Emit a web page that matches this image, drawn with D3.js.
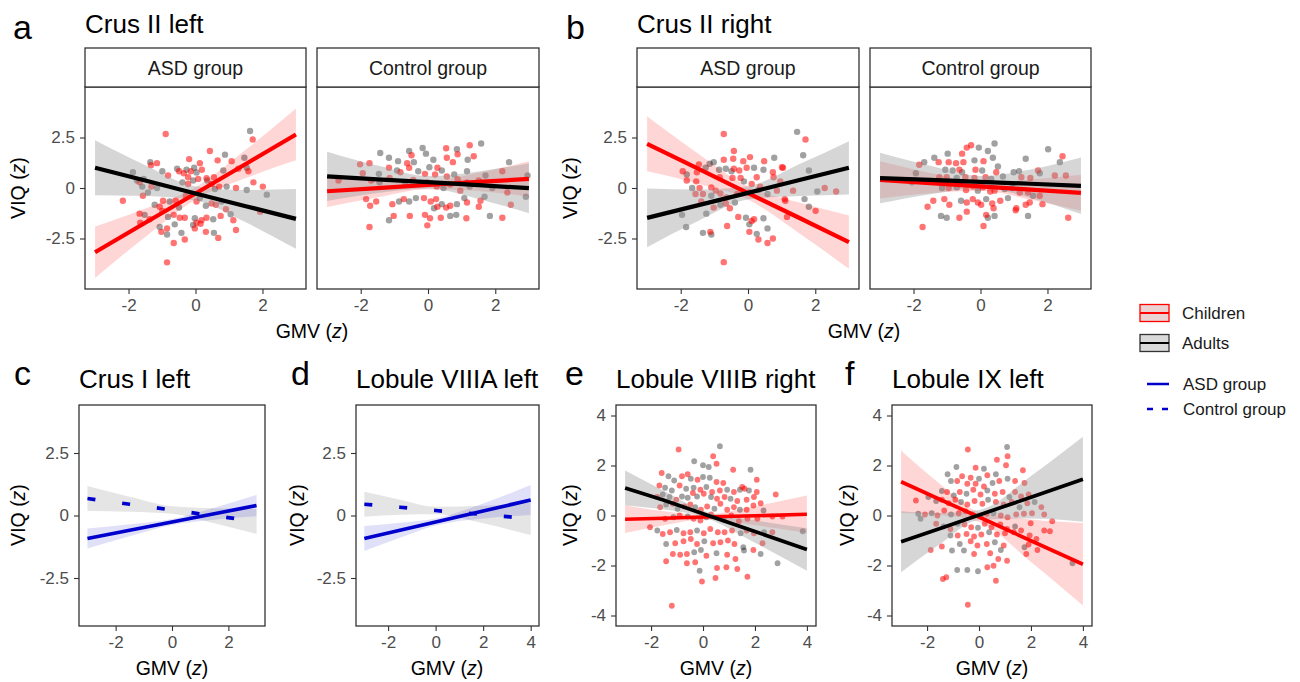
<!DOCTYPE html>
<html>
<head>
<meta charset="utf-8">
<script src="https://cdn.jsdelivr.net/npm/d3@7"></script>
<style>
  body { margin: 0; background: #fff; }
  text { font-family: "Liberation Sans", Arial, Helvetica, sans-serif; }
</style>
</head>
<body>
<svg id="chart" width="1300" height="682"></svg>
<script>
// ---- data (z scores) ----
const xTicksTop = [-2, 0, 2];
const yTicksTop = [-2.5, 0, 2.5];
const xTicksWide = [-2, 0, 2, 4];
const yTicksWide = [-4, -2, 0, 2, 4];
const fitX6 = [-3, -1.5, 0, 1.5, 3];
const fitX7 = [-3, -1.5, 0, 2, 4];

// Crus II left, ASD group
const aAsdChildren = [[-0.89,2.67],[1.71,2.40],[0.43,1.83],[0.66,1.37],[1.08,1.33],[-1.15,1.23],[-1.33,1.13],[-0.19,1.43],[0.13,1.23],[-0.49,0.83],[-0.35,0.73],[-0.14,0.83],[0.19,0.90],[0.33,0.48],[0.55,0.53],[1.28,0.95],[1.58,0.83],[-0.82,0.62],[-1.67,0.28],[-1.32,0.07],[-0.22,0.53],[0.08,0.45],[-0.22,0.20],[0.48,0.20],[0.71,0.07],[1.21,0.00],[1.73,0.28],[2.01,0.07],[-2.17,-0.63],[-1.57,-0.38],[-1.07,-0.93],[-0.97,-0.63],[-0.59,-0.63],[-0.29,-0.38],[0.03,-0.67],[0.48,-0.77],[0.61,-0.83],[0.91,-1.05],[1.93,-1.17],[-1.67,-1.27],[-1.37,-1.55],[-0.99,-1.13],[-0.65,-1.33],[-0.47,-1.47],[-0.32,-1.47],[0.03,-1.72],[0.18,-1.60],[0.33,-1.47],[0.75,-1.38],[1.13,-1.60],[-1.65,-1.72],[-1.02,-2.17],[-0.85,-2.00],[-0.02,-2.00],[0.15,-1.77],[0.31,-2.17],[0.68,-2.47],[1.21,-2.08],[-0.65,-2.72],[-0.32,-2.55],[-0.85,-3.68]];
const aAsdAdults = [[1.63,2.82],[0.88,1.65],[1.46,1.50],[-1.35,1.28],[-0.04,1.00],[-0.55,0.95],[-0.27,0.90],[0.03,0.77],[0.83,0.87],[1.53,1.00],[-1.87,0.78],[-1.75,0.37],[-0.99,0.83],[-1.55,0.45],[-1.59,0.07],[-1.15,0.00],[-0.07,0.37],[-0.39,0.28],[0.35,0.37],[0.58,-0.05],[0.93,0.07],[1.53,-0.10],[2.13,-0.33],[-1.42,-0.22],[-1.22,-0.83],[-0.77,-0.67],[-0.49,-0.97],[0.13,-0.50],[0.31,-0.88],[0.78,-0.67],[1.05,-1.30],[-1.52,-1.33],[-0.82,-1.43],[-0.02,-1.50],[0.53,-1.55],[-1.07,-1.93],[-0.85,-2.30],[-0.62,-1.80],[-0.42,-2.22],[-0.07,-1.83],[0.55,-2.22]];
// fits: [fit, lower, upper] at fitX6
const aAsdChildrenFit = [[-3.18,-1.72,-0.27,1.19,2.65],[-4.45,-2.42,-0.57,0.49,1.37],[-1.91,-1.02,0.04,1.89,3.93]];
const aAsdAdultsFit = [[1.00,0.37,-0.27,-0.90,-1.53],[-0.36,-0.39,-0.62,-1.70,-3.01],[2.36,1.13,0.09,-0.10,-0.05]];

// Crus II left, Control group
const aCtrlChildren = [[0.54,1.97],[1.24,2.12],[-0.49,1.62],[-0.62,1.23],[0.56,1.50],[0.74,1.28],[1.36,1.57],[0.88,1.67],[0.28,1.00],[-2.02,1.17],[-1.74,1.23],[-1.94,0.73],[-1.16,1.00],[-0.82,0.78],[-0.56,1.00],[-0.09,0.70],[0.21,0.67],[0.56,0.57],[0.88,0.43],[1.16,0.28],[1.51,0.37],[2.21,0.83],[-2.66,0.37],[-1.69,0.37],[-1.14,0.50],[-0.44,0.40],[-0.02,0.28],[0.26,0.07],[0.66,0.17],[0.96,-0.13],[2.36,-0.22],[-1.84,-0.55],[-1.72,-0.88],[-1.54,-0.67],[-1.06,-0.80],[-0.72,-0.55],[-0.12,-0.50],[0.08,-0.67],[0.24,-0.55],[0.28,-0.93],[0.54,-0.97],[0.66,-0.88],[1.16,-0.72],[1.51,-0.93],[1.56,-0.63],[2.46,-0.83],[-1.02,-1.38],[-0.54,-1.38],[-0.09,-1.33],[0.06,-1.50],[0.38,-1.47],[1.14,-1.50],[2.21,-1.47],[-1.74,-1.93],[-0.02,-1.85]];
const aCtrlAdults = [[1.58,2.20],[0.86,1.92],[-0.56,1.83],[-1.42,1.73],[-0.16,1.98],[-0.06,1.70],[-1.16,1.50],[-0.89,1.33],[-0.42,1.28],[1.18,1.40],[0.16,1.40],[0.04,1.03],[0.41,0.87],[-1.46,0.70],[-0.92,0.87],[-0.29,0.83],[0.78,0.67],[1.16,0.83],[1.71,0.62],[2.41,1.28],[-1.44,0.28],[-0.69,0.28],[-0.24,0.20],[0.46,0.00],[1.24,0.07],[1.91,0.00],[2.96,0.62],[-0.86,-0.67],[-0.56,-0.67],[-0.36,-0.50],[0.41,-0.80],[0.86,-0.80],[1.08,-0.50],[1.68,-0.43],[2.91,-0.43],[-1.16,-1.60],[0.18,-1.00],[0.66,-1.38],[0.84,-1.33],[1.84,-1.38]];
const aCtrlChildrenFit = [[-0.16,-0.01,0.15,0.30,0.45],[-0.94,-0.46,-0.06,-0.15,-0.43],[0.62,0.44,0.35,0.75,1.33]];
const aCtrlAdultsFit = [[0.58,0.43,0.29,0.14,-0.01],[-0.64,-0.25,-0.02,-0.54,-1.25],[1.80,1.11,0.59,0.82,1.23]];

// Crus II right, ASD group
const bAsdChildren = [[1.71,2.40],[-0.72,2.67],[-0.42,1.83],[-0.72,1.40],[-0.44,1.45],[-0.14,1.33],[0.06,1.53],[0.48,1.33],[1.04,1.00],[-1.46,1.17],[-1.94,0.83],[-1.52,0.78],[-0.42,0.95],[-0.26,0.87],[-0.04,1.00],[0.26,0.53],[0.74,0.78],[1.01,1.03],[-1.82,0.37],[-1.54,0.33],[-1.44,0.00],[-1.09,0.03],[-0.84,0.53],[-0.46,0.50],[-0.22,0.50],[0.11,0.20],[0.36,0.07],[0.76,0.53],[0.96,0.33],[2.28,0.00],[2.62,-0.17],[-1.56,-0.30],[-1.34,-0.30],[-0.96,-0.13],[-0.82,-0.27],[-0.64,-0.47],[-0.32,-0.30],[0.04,-0.22],[0.86,-0.13],[1.09,-0.55],[-1.39,-0.67],[-1.02,-0.97],[-0.66,-0.77],[-0.54,-1.00],[-0.29,-1.43],[0.11,-1.63],[0.18,-1.55],[1.16,-1.43],[2.01,-1.13],[-1.12,-2.17],[-0.62,-1.88],[0.04,-2.17],[0.74,-2.50],[0.58,-2.72],[0.31,-2.55],[-0.72,-3.67],[1.11,-0.63],[1.34,-0.13]];
const bAsdAdults = [[1.46,2.78],[1.64,1.62],[-1.02,1.28],[0.78,1.50],[-1.14,1.20],[-1.82,0.67],[-0.66,0.95],[-0.49,0.83],[0.18,1.00],[0.46,0.90],[1.81,0.87],[-1.66,0.00],[2.06,-0.17],[-0.39,-0.72],[1.68,-0.55],[-1.96,-1.33],[-1.24,-1.27],[-0.06,-1.47],[1.81,-0.93],[-1.84,-1.93],[-1.34,-2.22],[-1.09,-2.30],[0.04,-1.80],[0.26,-2.27],[0.58,-2.00],[-0.86,0.90],[-1.26,1.00],[-0.12,0.33],[0.58,-0.30],[-0.82,-0.83],[0.46,-1.50],[-1.09,-0.38],[0.31,-0.10]];
const bAsdChildrenFit = [[2.19,0.97,-0.25,-1.46,-2.68],[0.83,0.22,-0.57,-2.21,-4.00],[3.55,1.72,0.08,-0.71,-1.36]];
const bAsdAdultsFit = [[-1.48,-0.86,-0.24,0.38,1.00],[-2.93,-1.64,-0.57,-0.40,-0.32],[-0.03,-0.08,0.09,1.16,2.32]];

// Crus II right, Control group
const bCtrlChildren = [[-0.28,2.12],[-0.41,2.00],[-0.55,1.70],[0.09,1.33],[2.45,1.57],[-1.83,1.15],[-1.25,1.28],[-0.95,1.28],[-0.73,1.23],[-0.51,1.28],[-0.63,0.90],[-0.15,0.90],[0.47,0.78],[1.72,0.87],[2.22,0.62],[2.55,0.62],[-1.23,0.53],[-1.01,0.53],[-0.45,0.53],[-0.18,0.50],[0.15,0.53],[1.22,0.53],[1.49,0.50],[-0.95,0.00],[-0.43,-0.10],[-0.23,0.07],[0.07,0.03],[0.29,-0.17],[0.42,-0.13],[1.17,-0.22],[1.42,-0.22],[1.77,-0.38],[-1.41,-0.63],[-1.58,-0.93],[-1.08,-0.55],[-0.93,-0.83],[-0.41,-0.72],[-0.23,-0.55],[-0.08,-0.72],[0.02,-0.83],[0.35,-0.77],[0.39,-1.00],[0.59,-0.63],[1.07,-1.00],[1.35,-0.83],[1.47,-0.72],[1.85,-0.80],[-0.63,-1.47],[-0.41,-1.17],[0.17,-1.33],[1.05,-1.10],[0.09,-1.88],[-1.73,-1.93],[2.62,-1.47]];
const bCtrlAdults = [[0.42,2.20],[-0.05,2.00],[0.22,1.83],[-0.98,1.70],[-0.18,1.37],[0.37,1.50],[-1.38,1.50],[2.02,1.92],[2.37,1.28],[1.35,1.45],[-1.68,1.28],[-1.05,0.90],[-0.83,0.87],[-0.55,0.78],[0.05,0.87],[0.52,1.07],[0.99,0.78],[1.15,0.83],[1.77,0.73],[-1.93,0.73],[-2.05,0.28],[-0.71,0.50],[0.32,0.45],[0.67,0.57],[-1.15,0.00],[-0.71,0.03],[-0.08,-0.13],[0.72,-0.05],[0.95,0.00],[1.57,-0.38],[-0.58,-0.63],[0.17,-0.55],[0.82,-0.50],[-1.18,-1.38],[-1.01,-1.47],[0.22,-1.47],[0.42,-1.38],[1.42,-1.38]];
const bCtrlChildrenFit = [[0.40,0.24,0.08,-0.08,-0.24],[-0.52,-0.26,-0.14,-0.58,-1.13],[1.32,0.74,0.30,0.42,0.65]];
const bCtrlAdultsFit = [[0.49,0.40,0.30,0.21,0.11],[-0.76,-0.31,0.00,-0.50,-1.29],[1.74,1.10,0.60,0.91,1.51]];

// Crus I left / Lobule VIIIA left: group fits only
const cAsdFit = [[-0.92,-0.59,-0.26,0.07,0.40],[-1.32,-0.83,-0.38,-0.17,-0.03],[-0.52,-0.35,-0.14,0.31,0.83]];
const cCtrlFit = [[0.68,0.45,0.22,-0.01,-0.24],[0.18,0.15,0.07,-0.31,-0.74],[1.18,0.75,0.37,0.29,0.26]];
const dAsdFit = [[-0.92,-0.59,-0.26,0.18,0.62],[-1.42,-0.89,-0.40,-0.12,0.02],[-0.42,-0.29,-0.12,0.48,1.22]];
const dCtrlFit = [[0.45,0.33,0.20,0.04,-0.13],[-0.05,0.03,0.05,-0.31,-0.78],[0.95,0.63,0.35,0.39,0.52]];

// Lobule VIIIB right
const eChildren = [[-0.94,2.64],[0.39,2.37],[0.52,2.07],[1.16,1.83],[2.07,1.43],[-1.59,1.70],[-0.81,1.57],[-0.59,1.65],[-0.21,1.43],[0.52,1.34],[0.78,1.30],[1.51,1.14],[1.60,1.07],[2.07,0.94],[-1.68,1.20],[-0.90,1.20],[-0.10,1.03],[0.35,0.94],[0.65,1.00],[1.19,0.94],[2.80,0.84],[-1.76,0.74],[-1.03,0.63],[-0.39,0.90],[0.03,0.87],[0.54,0.67],[0.83,0.74],[1.32,0.58],[1.68,0.63],[1.96,0.74],[2.22,0.49],[-1.65,0.33],[-1.16,0.47],[-0.72,0.36],[-0.49,0.44],[-0.08,0.23],[0.16,0.36],[0.67,0.47],[0.93,0.23],[1.19,0.33],[1.68,0.23],[1.94,0.40],[-2.04,-0.47],[-1.46,-0.13],[-0.90,0.00],[-0.36,-0.13],[-0.10,-0.20],[0.31,0.04],[1.09,0.00],[1.38,-0.23],[1.71,-0.13],[2.09,-0.13],[2.67,-0.04],[3.06,-0.04],[-1.55,-0.74],[-1.27,-0.67],[-0.75,-0.71],[-0.49,-0.67],[0.03,-0.71],[0.28,-0.54],[0.57,-0.67],[0.83,-0.67],[1.12,-0.60],[1.68,-0.60],[1.96,-0.71],[2.67,-0.67],[-1.07,-1.11],[-0.75,-1.03],[-0.47,-0.94],[-0.23,-1.14],[0.39,-1.11],[0.67,-1.07],[0.96,-1.00],[1.21,-1.14],[1.94,-1.38],[2.29,-1.11],[-1.16,-1.54],[-0.88,-1.57],[-0.62,-1.54],[0.13,-1.61],[0.93,-1.57],[1.25,-1.74],[-1.42,-1.83],[-0.62,-1.91],[-0.30,-1.87],[0.54,-2.10],[0.90,-2.07],[1.32,-2.14],[-0.04,-2.64],[0.48,-2.50],[1.71,-2.45],[-1.20,-3.61]];
const eAdults = [[0.65,2.77],[-0.34,2.17],[0.00,2.01],[0.22,1.94],[1.83,1.83],[-1.33,1.57],[-1.11,1.40],[-0.47,1.47],[0.00,1.54],[0.26,1.51],[-1.46,1.11],[-1.20,1.00],[-0.65,1.07],[-0.36,1.11],[0.13,1.14],[0.93,1.03],[1.42,1.03],[1.77,1.00],[-1.55,0.84],[-1.29,0.74],[-0.81,0.76],[-0.59,0.71],[-0.23,0.76],[0.31,0.74],[1.06,0.67],[-1.42,0.44],[-0.98,0.27],[-0.30,0.33],[0.44,0.27],[1.42,0.23],[2.33,0.20],[-1.14,-0.07],[-0.59,-0.04],[0.13,-0.07],[0.80,-0.17],[3.84,-0.63],[-1.76,-0.60],[-1.01,-0.58],[-0.23,-0.60],[1.45,-0.71],[2.35,-0.67],[-1.42,-1.14],[0.05,-1.03],[1.55,-1.27],[-0.34,-1.47],[-0.08,-1.38],[0.52,-1.51],[1.58,-1.40],[2.22,-1.54],[2.87,-1.91],[-0.13,-2.21]];
const eChildrenFit = [[-0.15,-0.11,-0.06,-0.01,0.05],[-0.70,-0.39,-0.16,-0.39,-0.70],[0.40,0.17,0.04,0.37,0.80]];
const eAdultsFit = [[1.10,0.61,0.07,-0.64,-1.36],[0.40,0.24,-0.05,-1.09,-2.21],[1.80,0.98,0.19,-0.19,-0.51]];

// Lobule IX left
const fChildren = [[-0.43,2.64],[1.10,2.37],[1.04,2.01],[0.69,2.23],[-0.13,1.91],[1.69,1.81],[-0.32,1.51],[0.32,1.61],[-0.65,1.57],[-0.84,1.38],[-0.45,1.27],[-0.13,1.27],[0.19,1.16],[0.78,1.38],[1.39,1.38],[1.75,1.30],[-1.23,0.94],[-0.74,0.94],[-0.22,1.03],[0.06,0.84],[0.61,0.87],[0.91,0.94],[1.39,0.94],[1.62,0.76],[1.91,0.84],[-2.43,0.60],[-1.43,0.63],[-1.17,0.49],[-0.91,0.63],[-0.45,0.44],[-0.17,0.58],[0.13,0.47],[0.65,0.54],[0.95,0.44],[1.26,0.54],[1.86,0.49],[2.40,0.33],[-2.08,0.04],[-1.60,0.00],[-1.34,0.20],[-0.78,0.09],[-0.52,0.17],[-0.26,0.04],[0.30,0.07],[0.84,0.00],[1.10,-0.07],[1.43,0.04],[1.73,0.07],[2.04,0.09],[2.51,0.04],[2.82,-0.23],[-1.65,-0.33],[-1.10,-0.54],[-0.56,-0.36],[-0.30,-0.47],[0.22,-0.33],[0.48,-0.47],[0.82,-0.36],[1.08,-0.54],[1.62,-0.60],[1.99,-0.31],[2.51,-0.60],[2.73,-0.63],[-0.82,-0.80],[-0.48,-0.74],[-0.19,-0.84],[0.09,-0.76],[0.69,-0.76],[1.00,-0.71],[1.34,-0.67],[1.95,-0.80],[2.21,-0.94],[-0.32,-1.03],[-0.06,-1.20],[0.30,-1.14],[0.95,-1.20],[2.25,-1.38],[1.82,-1.54],[-1.86,-1.38],[-1.43,-1.24],[-0.19,-1.54],[0.43,-1.51],[0.74,-1.74],[1.08,-1.81],[0.32,-2.07],[0.56,-2.01],[-1.39,-2.54],[-1.26,-2.47],[0.65,-2.61],[-0.43,-3.57],[1.91,-1.16]];
const fAdults = [[1.08,2.74],[0.19,1.87],[-0.87,1.94],[0.00,1.47],[0.65,1.65],[-1.21,1.65],[-1.08,1.38],[0.52,1.30],[1.10,1.47],[-1.43,0.98],[-0.97,0.80],[-0.48,0.87],[0.32,1.00],[1.17,0.74],[-1.95,0.74],[-1.65,0.58],[-0.69,0.54],[0.35,0.63],[1.56,0.33],[2.14,0.54],[-2.34,0.07],[-1.82,0.09],[-1.08,0.04],[0.06,-0.04],[0.56,0.09],[-2.25,-0.13],[-1.36,-0.44],[-0.82,-0.33],[-0.04,-0.49],[1.39,-0.44],[-1.10,-0.80],[0.39,-0.67],[-0.74,-1.14],[0.61,-1.07],[1.75,-1.27],[-1.04,-1.40],[-0.58,-1.40],[0.84,-1.38],[-0.84,-2.18],[-0.45,-2.18],[-0.04,-2.23],[3.60,-1.91]];
const fChildrenFit = [[1.35,0.64,-0.06,-1.01,-1.95],[0.10,0.02,-0.26,-1.86,-3.60],[2.60,1.26,0.14,-0.16,-0.30]];
const fAdultsFit = [[-1.05,-0.52,0.02,0.73,1.45],[-2.27,-1.14,-0.18,-0.12,-0.25],[0.17,0.10,0.22,1.58,3.15]];

// ---- drawing ----
const RED = '#ff0000', BLUE = '#0000cd';
const svg = d3.select('#chart');
let clipN = 0;

function zLabel(sel, name) {
  sel.append('tspan').text(name + ' (');
  sel.append('tspan').attr('font-style', 'italic').text('z');
  sel.append('tspan').text(')');
}

function styleAxis(g) {
  g.attr('font-family', null).attr('font-size', 17);
  g.select('.domain').remove();
  g.selectAll('.tick line').attr('stroke', '#333').attr('stroke-width', 1.1);
  g.selectAll('.tick text').attr('fill', '#4d4d4d');
}

function drawFacet(c) {
  const x = d3.scaleLinear().domain(c.xDomain).range([c.left, c.right]);
  const y = d3.scaleLinear().domain(c.yDomain).range([c.bottom, c.top]);
  const g = svg.append('g');
  const id = 'clip' + (clipN++);
  svg.append('clipPath').attr('id', id).append('rect')
    .attr('x', c.left).attr('y', c.top).attr('width', c.right - c.left).attr('height', c.bottom - c.top);
  const plot = g.append('g').attr('clip-path', `url(#${id})`);

  (c.points || []).forEach(p => {
    plot.append('g').selectAll('circle').data(p.data).join('circle')
      .attr('cx', d => x(d[0])).attr('cy', d => y(d[1])).attr('r', c.pointR)
      .attr('fill', p.color).attr('fill-opacity', p.opacity);
  });

  c.fits.forEach(f => {
    const area = d3.area()
      .x((d, i) => x(f.xs[i]))
      .y0((d, i) => y(f.fit[1][i]))
      .y1((d, i) => y(f.fit[2][i]))
      .curve(d3.curveMonotoneX);
    plot.append('path').datum(f.xs).attr('d', area)
      .attr('fill', f.fill).attr('fill-opacity', f.fillOpacity);
  });
  c.fits.forEach(f => {
    const line = d3.line().x(d => x(d[0])).y(d => y(d[1]));
    const pts = f.xs.map((v, i) => [v, f.fit[0][i]]);
    plot.append('path').datum(pts).attr('d', line)
      .attr('fill', 'none').attr('stroke', f.stroke).attr('stroke-width', c.lineW)
      .attr('stroke-dasharray', f.dash || null);
  });

  g.append('rect').attr('x', c.left).attr('y', c.top)
    .attr('width', c.right - c.left).attr('height', c.bottom - c.top)
    .attr('fill', 'none').attr('stroke', '#333').attr('stroke-width', 1.3);

  g.append('g').attr('transform', `translate(0,${c.bottom})`)
    .call(d3.axisBottom(x).tickValues(c.xTicks).tickSize(5).tickPadding(5).tickFormat(d => String(d)))
    .call(styleAxis);
  if (c.yAxis) {
    g.append('g').attr('transform', `translate(${c.left},0)`)
      .call(d3.axisLeft(y).tickValues(c.yTicks).tickSize(5).tickPadding(5).tickFormat(d => String(d)))
      .call(styleAxis);
  }
  if (c.strip) {
    g.append('rect').attr('x', c.left).attr('y', c.stripTop)
      .attr('width', c.right - c.left).attr('height', c.top - c.stripTop)
      .attr('fill', '#fff').attr('stroke', '#333').attr('stroke-width', 1.3);
    g.append('text').attr('x', (c.left + c.right) / 2).attr('y', (c.stripTop + c.top) / 2 + 7)
      .attr('text-anchor', 'middle').attr('font-size', 19.5).attr('fill', '#1a1a1a').text(c.strip);
  }
}

function childAdultFits(xs, childFit, adultFit) {
  return [
    { xs, fit: childFit, fill: RED, fillOpacity: 0.16, stroke: RED },
    { xs, fit: adultFit, fill: '#999', fillOpacity: 0.4, stroke: '#000' }
  ];
}
function childAdultPoints(ch, ad) {
  return [
    { data: ad, color: '#000', opacity: 0.37 },
    { data: ch, color: RED, opacity: 0.55 }
  ];
}
function groupFits(xs, asdFit, ctrlFit) {
  return [
    { xs, fit: ctrlFit, fill: '#999', fillOpacity: 0.26, stroke: BLUE, dash: '8,27' },
    { xs, fit: asdFit, fill: BLUE, fillOpacity: 0.12, stroke: BLUE }
  ];
}

const top1 = { stripTop: 48, top: 87, bottom: 289, xDomain: [-3.3, 3.3], yDomain: [-5, 5],
  xTicks: xTicksTop, yTicks: yTicksTop, pointR: 3.2, lineW: 4.2 };
const row2 = { top: 405, bottom: 626, yDomain: [-4.42, 4.42], lineW: 3.7, pointR: 2.9 };

drawFacet({ ...top1, left: 85, right: 306, yAxis: true, strip: 'ASD group',
  points: childAdultPoints(aAsdChildren, aAsdAdults), fits: childAdultFits(fitX6, aAsdChildrenFit, aAsdAdultsFit) });
drawFacet({ ...top1, left: 317, right: 539, yAxis: false, strip: 'Control group',
  points: childAdultPoints(aCtrlChildren, aCtrlAdults), fits: childAdultFits(fitX6, aCtrlChildrenFit, aCtrlAdultsFit) });
drawFacet({ ...top1, left: 637, right: 859, yAxis: true, strip: 'ASD group',
  points: childAdultPoints(bAsdChildren, bAsdAdults), fits: childAdultFits(fitX6, bAsdChildrenFit, bAsdAdultsFit) });
drawFacet({ ...top1, left: 870, right: 1091, yAxis: false, strip: 'Control group',
  points: childAdultPoints(bCtrlChildren, bCtrlAdults), fits: childAdultFits(fitX6, bCtrlChildrenFit, bCtrlAdultsFit) });

drawFacet({ ...row2, left: 79, right: 265, xDomain: [-3.3, 3.3], xTicks: xTicksTop, yTicks: yTicksTop, yAxis: true,
  fits: groupFits(fitX6, cAsdFit, cCtrlFit) });
drawFacet({ ...row2, left: 356, right: 539, xDomain: [-3.35, 4.35], xTicks: xTicksWide, yTicks: yTicksTop, yAxis: true,
  fits: groupFits(fitX7, dAsdFit, dCtrlFit) });
drawFacet({ ...row2, left: 616, right: 816, xDomain: [-3.35, 4.35], xTicks: xTicksWide, yTicks: yTicksWide, yAxis: true,
  points: childAdultPoints(eChildren, eAdults), fits: childAdultFits(fitX7, eChildrenFit, eAdultsFit) });
drawFacet({ ...row2, left: 892, right: 1092, xDomain: [-3.35, 4.35], xTicks: xTicksWide, yTicks: yTicksWide, yAxis: true,
  points: childAdultPoints(fChildren, fAdults), fits: childAdultFits(fitX7, fChildrenFit, fAdultsFit) });

// panel letters and titles
const letters = [['a', 13, 39], ['b', 566, 39], ['c', 14, 385], ['d', 291, 385], ['e', 565, 385], ['f', 845, 385]];
letters.forEach(([t, x, y]) => svg.append('text').attr('x', x).attr('y', y).attr('font-size', 34).attr('fill', '#000').text(t));
const titles = [['Crus II left', 85, 33], ['Crus II right', 637, 33], ['Crus I left', 79, 388],
  ['Lobule VIIIA left', 356, 388], ['Lobule VIIIB right', 616, 388], ['Lobule IX left', 892, 388]];
titles.forEach(([t, x, y]) => svg.append('text').attr('x', x).attr('y', y).attr('font-size', 26).attr('fill', '#000').text(t));

// axis titles
const gmvPos = [[312, 338], [864, 338], [172, 675], [447, 675], [716, 675], [992, 675]];
gmvPos.forEach(([x, y]) => svg.append('text').attr('x', x).attr('y', y).attr('text-anchor', 'middle')
  .attr('font-size', 19.5).attr('fill', '#000').call(zLabel, 'GMV'));
const viqPos = [[25, 188], [577, 188], [25, 515], [304, 515], [577, 515], [854, 515]];
viqPos.forEach(([x, y]) => svg.append('text').attr('transform', `translate(${x},${y}) rotate(-90)`)
  .attr('text-anchor', 'middle').attr('font-size', 19.5).attr('fill', '#000').call(zLabel, 'VIQ'));

// legend
const lg = svg.append('g');
[['Children', RED, '#ecd3d3', RED, 313], ['Adults', '#333', '#d9d9d9', '#000', 343]].forEach(([t, border, fill, line, cy]) => {
  lg.append('rect').attr('x', 1140).attr('y', cy - 8.5).attr('width', 29).attr('height', 17)
    .attr('fill', fill).attr('stroke', border).attr('stroke-width', 1.3);
  lg.append('line').attr('x1', 1140).attr('x2', 1169).attr('y1', cy).attr('y2', cy)
    .attr('stroke', line).attr('stroke-width', 2);
  lg.append('text').attr('x', 1182).attr('y', cy + 6).attr('font-size', 17).attr('fill', '#1a1a1a').text(t);
});
[['ASD group', null, 384], ['Control group', '6,9', 409]].forEach(([t, dash, cy]) => {
  lg.append('line').attr('x1', 1147).attr('x2', 1169).attr('y1', cy).attr('y2', cy)
    .attr('stroke', BLUE).attr('stroke-width', 2.5).attr('stroke-dasharray', dash);
  lg.append('text').attr('x', 1183).attr('y', cy + 6).attr('font-size', 17).attr('fill', '#1a1a1a').text(t);
});
</script>
</body>
</html>
